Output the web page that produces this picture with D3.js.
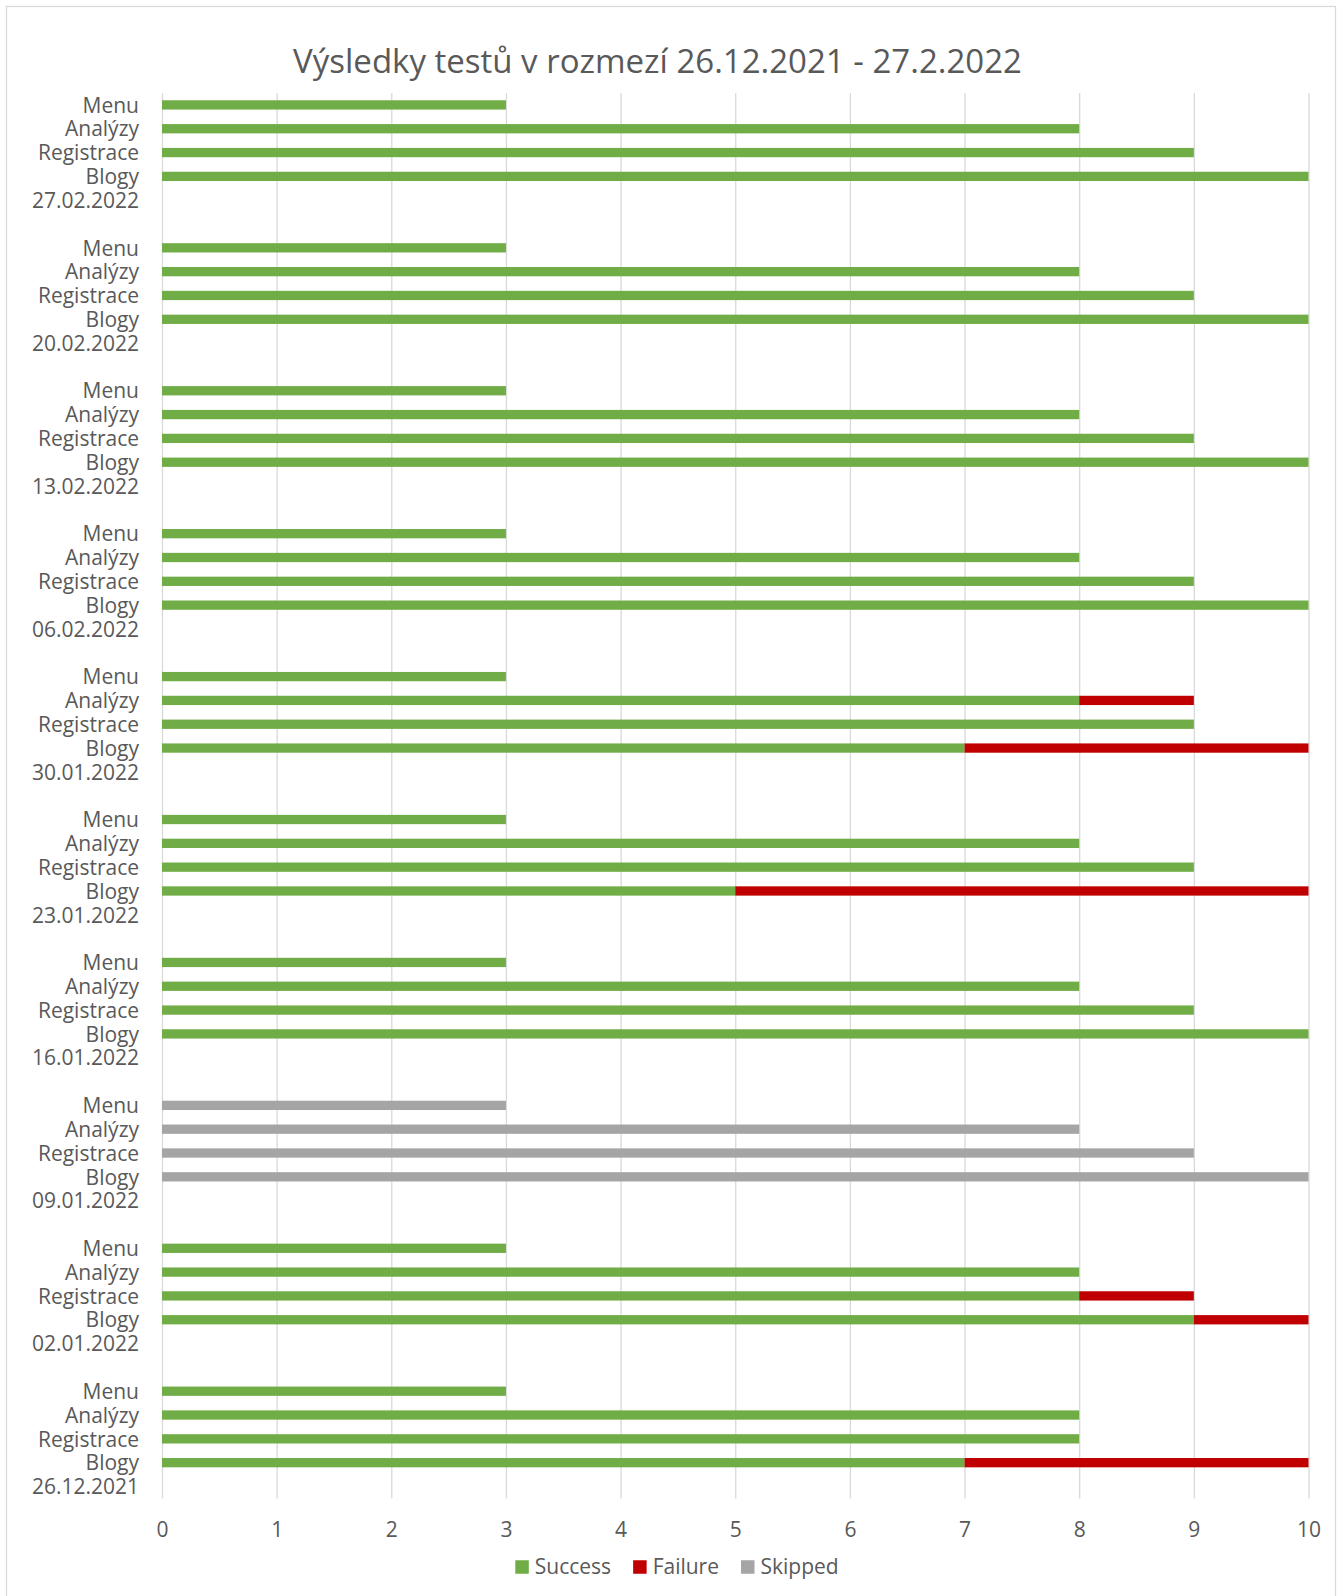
<!DOCTYPE html>
<html>
<head>
<meta charset="utf-8">
<script src="https://cdn.jsdelivr.net/npm/d3@7"></script>
<style>
  body { margin: 0; background: #fff; }
  text { font-family: "Open Sans", sans-serif; fill: #595959; }
</style>
</head>
<body>
<svg id="chart"></svg>
<script>
// data: groups from top of chart to bottom
const dates = ["27.02.2022", "20.02.2022", "13.02.2022", "06.02.2022", "30.01.2022",
               "23.01.2022", "16.01.2022", "09.01.2022", "02.01.2022", "26.12.2021"];
const tests = ["Menu", "Analýzy", "Registrace", "Blogy"];
// one row per date, values in the order of tests
const success = [
  [3, 8, 9, 10], [3, 8, 9, 10], [3, 8, 9, 10], [3, 8, 9, 10], [3, 8, 9, 7],
  [3, 8, 9, 5], [3, 8, 9, 10], [0, 0, 0, 0], [3, 8, 8, 9], [3, 8, 8, 7]
];
const failure = [
  [0, 0, 0, 0], [0, 0, 0, 0], [0, 0, 0, 0], [0, 0, 0, 0], [0, 1, 0, 3],
  [0, 0, 0, 5], [0, 0, 0, 0], [0, 0, 0, 0], [0, 0, 1, 1], [0, 0, 0, 3]
];
const skipped = [
  [0, 0, 0, 0], [0, 0, 0, 0], [0, 0, 0, 0], [0, 0, 0, 0], [0, 0, 0, 0],
  [0, 0, 0, 0], [0, 0, 0, 0], [3, 8, 9, 10], [0, 0, 0, 0], [0, 0, 0, 0]
];
const xTicks = [0, 1, 2, 3, 4, 5, 6, 7, 8, 9, 10];
const seriesNames = ["Success", "Failure", "Skipped"];
const colors = ["#70AD47", "#C00000", "#A5A5A5"];
const title = "Výsledky testů v rozmezí 26.12.2021 - 27.2.2022";

const W = 1340, H = 1596;
const plot = { left: 162, right: 1308.5, top: 93, bottom: 1498.4 };

const svg = d3.select("#chart").attr("width", W).attr("height", H);

svg.append("rect")
  .attr("x", 6.5).attr("y", 6.5)
  .attr("width", 1329).attr("height", 1610)
  .attr("fill", "#fff").attr("stroke", "#D9D9D9").attr("stroke-width", 1.3);

// rows: 4 tests + date row, blank row between groups
let rows = [];
let table = [];
dates.forEach((d, g) => {
  tests.forEach((t, i) => {
    let key = d + "|" + t;
    rows.push({ key: key, label: t });
    table.push({ key: key, Success: success[g][i], Failure: failure[g][i], Skipped: skipped[g][i] });
  });
  rows.push({ key: d + "|date", label: d });
  if (g < dates.length - 1) rows.push({ key: d + "|blank", label: "" });
});

let x = d3.scaleLinear().domain([0, 10]).range([plot.left, plot.right]);
let y = d3.scaleBand()
  .domain(rows.map(r => r.key))
  .range([plot.top, plot.bottom])
  .paddingInner(0.61)
  .paddingOuter(0.305);

// gridlines + tick labels
let xAxis = svg.append("g")
  .attr("transform", `translate(0, ${plot.bottom})`)
  .call(d3.axisBottom(x).tickValues(xTicks).tickFormat(d3.format("d"))
    .tickSize(-(plot.bottom - plot.top)).tickPadding(24));
xAxis.select(".domain").remove();
xAxis.selectAll(".tick line").attr("stroke", "#D9D9D9").attr("stroke-width", 1.3);
xAxis.selectAll(".tick text").attr("font-size", 21).attr("fill", "#595959")
  .attr("font-family", "Open Sans");

// category labels
let labelOf = {};
rows.forEach(r => labelOf[r.key] = r.label);
let yAxis = svg.append("g")
  .attr("transform", `translate(${plot.left}, 1)`)
  .call(d3.axisLeft(y).tickSize(0).tickPadding(23).tickFormat(k => labelOf[k]));
yAxis.select(".domain").remove();
yAxis.selectAll(".tick text").attr("font-size", 21).attr("fill", "#595959")
  .attr("font-family", "Open Sans");

// stacked bars
let stacked = d3.stack().keys(seriesNames)(table);
svg.append("g").selectAll("g")
  .data(stacked)
  .enter().append("g")
  .attr("fill", (d, i) => colors[i])
  .selectAll("rect")
  .data(d => d)
  .enter().append("rect")
  .attr("x", d => x(d[0]))
  .attr("y", d => y(d.data.key))
  .attr("width", d => x(d[1]) - x(d[0]))
  .attr("height", y.bandwidth());

// title
svg.append("text")
  .attr("x", 657.5).attr("y", 73)
  .attr("text-anchor", "middle")
  .attr("font-size", 33)
  .text(title);

// legend, centered
let legend = svg.append("g");
let items = legend.selectAll("g").data(seriesNames).enter().append("g");
items.append("rect").attr("width", 13.5).attr("height", 13.5)
  .attr("y", -6.75).attr("fill", (d, i) => colors[i]);
items.append("text").attr("x", 19.5).attr("dy", "0.35em")
  .attr("font-size", 21).text(d => d);
let pos = 0;
items.each(function () {
  d3.select(this).attr("transform", `translate(${pos}, 0)`);
  pos += 19.5 + d3.select(this).select("text").node().getComputedTextLength() + 22;
});
pos -= 22;
legend.attr("transform", `translate(${677 - pos / 2}, 1567)`);
</script>
</body>
</html>
